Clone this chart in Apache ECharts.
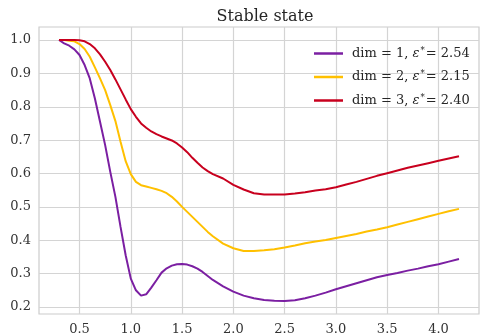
<!DOCTYPE html>
<html>
<head>
<meta charset="utf-8">
<script src="https://cdn.jsdelivr.net/npm/echarts@6/dist/echarts.min.js"></script>
<style>
  html, body { margin: 0; padding: 0; background: #ffffff; }
  #chart { width: 480px; height: 336px; }
</style>
</head>
<body>
<div id="chart"></div>
<script>
// Sampling points along epsilon (shared by all three curves)
const xs = [0.3, 0.35, 0.4, 0.45, 0.5, 0.55, 0.6, 0.65, 0.7, 0.75, 0.8, 0.85, 0.9, 0.95,
  1.0, 1.05, 1.1, 1.15, 1.2, 1.25, 1.3, 1.35, 1.4, 1.45, 1.5, 1.55, 1.6, 1.65, 1.7, 1.75, 1.8,
  1.9, 2.0, 2.1, 2.2, 2.3, 2.4, 2.5, 2.6, 2.7, 2.8, 2.9, 3.0, 3.1, 3.2, 3.3, 3.4, 3.5,
  3.6, 3.7, 3.8, 3.9, 4.0, 4.1, 4.2];

// Stable-state fraction for each dimension
const dim1 = [1.000, 0.990, 0.983, 0.972, 0.955, 0.925, 0.885, 0.825, 0.755, 0.685, 0.605, 0.530, 0.440, 0.355,
  0.285, 0.250, 0.234, 0.238, 0.258, 0.280, 0.303, 0.316, 0.324, 0.328, 0.329, 0.327, 0.322, 0.315, 0.305, 0.293, 0.281,
  0.262, 0.246, 0.234, 0.226, 0.221, 0.219, 0.218, 0.220, 0.226, 0.234, 0.243, 0.253, 0.262, 0.271, 0.280, 0.289, 0.296,
  0.302, 0.309, 0.315, 0.322, 0.328, 0.336, 0.344];
const dim2 = [1.000, 1.000, 0.998, 0.996, 0.988, 0.973, 0.950, 0.918, 0.885, 0.850, 0.805, 0.757, 0.695, 0.637,
  0.598, 0.575, 0.565, 0.561, 0.557, 0.553, 0.548, 0.541, 0.530, 0.516, 0.500, 0.485, 0.470, 0.455, 0.440, 0.425, 0.412,
  0.390, 0.376, 0.368, 0.368, 0.370, 0.373, 0.378, 0.384, 0.391, 0.396, 0.401, 0.407, 0.413, 0.419, 0.426, 0.432, 0.439,
  0.447, 0.455, 0.463, 0.471, 0.479, 0.487, 0.494];
const dim3 = [1.000, 1.000, 1.000, 1.000, 0.999, 0.996, 0.988, 0.975, 0.957, 0.935, 0.910, 0.882, 0.852, 0.822,
  0.793, 0.770, 0.750, 0.737, 0.726, 0.718, 0.711, 0.705, 0.699, 0.690, 0.678, 0.664, 0.647, 0.632, 0.618, 0.607, 0.598,
  0.585, 0.566, 0.552, 0.541, 0.537, 0.537, 0.537, 0.540, 0.544, 0.549, 0.553, 0.559, 0.567, 0.575, 0.584, 0.593, 0.601,
  0.609, 0.617, 0.624, 0.631, 0.638, 0.645, 0.652];

const dims = ['1', '2', '3'];
const epsStar = ['2.54', '2.15', '2.40'];
const colors = ['#7b1fa2', '#ffc000', '#c8001e'];

const xTicks = [0.5, 1.0, 1.5, 2.0, 2.5, 3.0, 3.5, 4.0];
const yTicks = [0.2, 0.3, 0.4, 0.5, 0.6, 0.7, 0.8, 0.9, 1.0];

const serif = '"DejaVu Serif", serif';
const names = dims.map((d, i) => 'dim = ' + d + ', ε* = ' + epsStar[i]);
const values = [dim1, dim2, dim3];

const chart = echarts.init(document.getElementById('chart'), null, { renderer: 'canvas' });

chart.setOption({
  animation: false,
  backgroundColor: '#ffffff',
  title: {
    text: 'Stable state',
    left: 260, top: 4, textAlign: 'center',
    textStyle: { fontFamily: serif, fontSize: 16, fontWeight: 'normal', color: '#262626' }
  },
  legend: {
    left: 309, top: 41,
    orient: 'vertical',
    itemGap: 9.5,
    itemWidth: 29, itemHeight: 2.5,
    icon: 'rect',
    data: names,
    formatter: function (name) {
      const i = names.indexOf(name);
      return 'dim = ' + dims[i] + ', {e|ε}{s|*}= ' + epsStar[i];
    },
    textStyle: {
      fontFamily: serif, fontSize: 13, color: '#262626', padding: [0, 0, 0, 4],
      rich: {
        e: { fontFamily: serif, fontStyle: 'italic', fontSize: 13, color: '#262626' },
        s: { fontFamily: serif, fontSize: 8.5, color: '#262626', verticalAlign: 'top', padding: [0, 1, 6, 1] }
      }
    }
  },
  grid: {
    left: 39, right: 1, top: 27, bottom: 21,
    show: true, borderColor: '#cccccc', borderWidth: 1.2, backgroundColor: '#ffffff'
  },
  xAxis: {
    type: 'value', min: 0.105, max: 4.395,
    axisLine: { show: false },
    axisTick: { show: false, customValues: xTicks },
    axisLabel: {
      customValues: xTicks, margin: 9,
      fontFamily: serif, fontSize: 13, color: '#333333',
      formatter: v => v.toFixed(1)
    },
    splitLine: { show: true, lineStyle: { color: '#d4d4d4', width: 1.2 } }
  },
  yAxis: {
    type: 'value', min: 0.179, max: 1.039,
    axisLine: { show: false },
    axisTick: { show: false, customValues: yTicks },
    axisLabel: {
      customValues: yTicks, margin: 8,
      fontFamily: serif, fontSize: 13, color: '#333333',
      formatter: v => v.toFixed(1)
    },
    splitLine: { show: true, lineStyle: { color: '#d4d4d4', width: 1.2 } }
  },
  series: values.map((ys, i) => ({
    name: names[i],
    type: 'line',
    data: xs.map((x, j) => [x, ys[j]]),
    showSymbol: false,
    symbol: 'none',
    smooth: false,
    lineStyle: { color: colors[i], width: 2 },
    itemStyle: { color: colors[i] },
    z: 3 + i
  }))
});
</script>
</body>
</html>
